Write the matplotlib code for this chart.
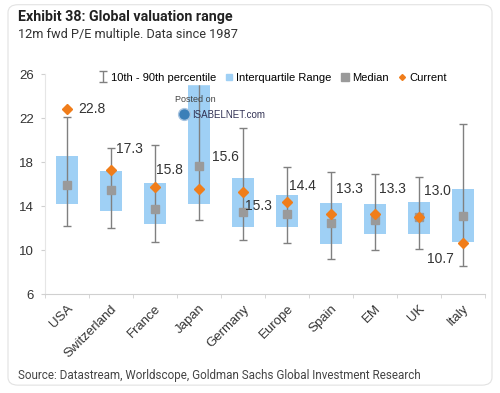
import numpy as np
import matplotlib
matplotlib.use("Agg")
import matplotlib.pyplot as plt
from matplotlib.lines import Line2D
from matplotlib.patches import FancyBboxPatch

# P/E data
countries = ["USA", "Switzerland", "France", "Japan", "Germany",
             "Europe", "Spain", "EM", "UK", "Italy"]
p10 = [12.2, 12.0, 10.8, 12.8, 10.9, 10.7, 9.2, 10.0, 10.1, 8.6]
p90 = [22.1, 19.3, 19.6, 26.5, 21.1, 17.6, 17.1, 16.9, 16.7, 21.5]
q1 = [14.2, 13.6, 12.4, 14.2, 12.1, 12.1, 10.6, 11.5, 11.5, 10.8]
q3 = [18.6, 17.2, 16.1, 25.1, 16.6, 15.0, 14.3, 14.2, 14.4, 15.6]
median = [15.9, 15.5, 13.8, 17.7, 13.5, 13.3, 12.5, 12.8, 13.0, 13.1]
current = [22.8, 17.3, 15.8, 15.6, 15.3, 14.4, 13.3, 13.3, 13.0, 10.7]

# where the value labels sit (pixel offset from centre, y in data units)
label_dx = [11, 5, 1, 13, 2, 2, 5, 4, 5, -9]
label_y = [22.8, 19.2, 17.3, 18.5, 14.0, 15.85, 15.6, 15.55, 15.4, 9.25]

blue = "#9fd0f5"
grey = "#9a9a9a"
orange = "#f07d1a"
whisk = "#808080"

plt.rcParams["font.family"] = ["Liberation Sans", "DejaVu Sans"]
narrow = ["Roboto", "DejaVu Sans"]

fig = plt.figure(figsize=(5, 3.93), dpi=100)
fig.patches.append(FancyBboxPatch((0.016, 0.02), 0.968, 0.968,
                                  boxstyle="round,pad=0,rounding_size=0.02",
                                  transform=fig.transFigure, fc="white",
                                  ec="#e2e2e2", lw=0.8, zorder=-5))

ax = fig.add_axes([0.09, 0.251, 0.88, 0.56])
ax.patch.set_alpha(0)
x = np.arange(len(countries))
med = np.array(median)

ax.bar(x, np.array(q3) - np.array(q1), bottom=q1, width=0.48,
       color=blue, zorder=1)
eb = ax.errorbar(x, med, yerr=[med - np.array(p10), np.array(p90) - med],
                 fmt="none", ecolor=whisk, elinewidth=1.0, capsize=3.2,
                 capthick=1.0, zorder=2)
ax.plot(x, median, "s", color=grey, markersize=5.2, zorder=3)
ax.plot(x, current, "D", color=orange, markersize=4.8, zorder=4)

for i, v in enumerate(current):
    ax.annotate(f"{v:.1f}", (x[i], label_y[i]), xytext=(label_dx[i], 0),
                textcoords="offset pixels", va="center",
                ha="right" if label_dx[i] < 0 else "left",
                fontsize=10, color="#333333", zorder=5)

ax.set_xlim(-0.5, len(countries) - 0.5)
ax.set_ylim(6, 26)
ax.set_yticks([6, 10, 14, 18, 22, 26])
ax.tick_params(axis="y", labelsize=9.5, length=3, color="#d0d0d0",
               labelcolor="#333333", pad=5)
ax.set_xticks(x)
ax.set_xticklabels(countries, rotation=45, ha="right",
                   rotation_mode="anchor", fontsize=9.5, color="#333333")
ax.set_xticks(np.arange(len(countries) + 1) - 0.5, minor=True)
ax.tick_params(axis="x", which="major", length=0, pad=6)
ax.tick_params(axis="x", which="minor", length=3, color="#d0d0d0")
for s in ["top", "right"]:
    ax.spines[s].set_visible(False)
ax.spines["left"].set_color("#e6e6e6")
ax.spines["bottom"].set_color("#d0d0d0")

handles = [eb,
           Line2D([], [], marker="s", color=blue, ls="none", markersize=5),
           Line2D([], [], marker="s", color=grey, ls="none", markersize=6),
           Line2D([], [], marker="D", color=orange, ls="none", markersize=3)]
labels = ["10th - 90th percentile", "Interquartile Range", "Median", "Current"]
ax.legend(handles, labels, loc="center", bbox_to_anchor=(0.518, 0.985),
          ncol=4, frameon=True, framealpha=1, edgecolor="white",
          fontsize=8, handlelength=0.7, handletextpad=0.35,
          columnspacing=0.8, borderpad=0.1)

# watermark
fig.add_artist(Line2D([0.368], [0.71], marker="o", markersize=8.5,
                      color="#3b7fb8", markeredgecolor="#a8c4e0",
                      transform=fig.transFigure, zorder=5))
fig.text(0.35, 0.74, "Posted on", fontsize=6.5, color="#444444")
fig.text(0.384, 0.7, "ISABELNET.com", fontsize=7, color="#333355")

fig.text(0.036, 0.958, "Exhibit 38: Global valuation range",
         fontsize=10.3, fontweight="bold", family=narrow, color="#222222",
         va="center")
fig.text(0.036, 0.912, "12m fwd P/E multiple. Data since 1987",
         fontsize=9.2, family=narrow, color="#333333", va="center")
fig.text(0.036, 0.044, "Source: Datastream, Worldscope, Goldman Sachs Global "
         "Investment Research", fontsize=8.4, family=narrow,
         color="#444444", va="center")

fig.savefig("out.png", dpi=100)
